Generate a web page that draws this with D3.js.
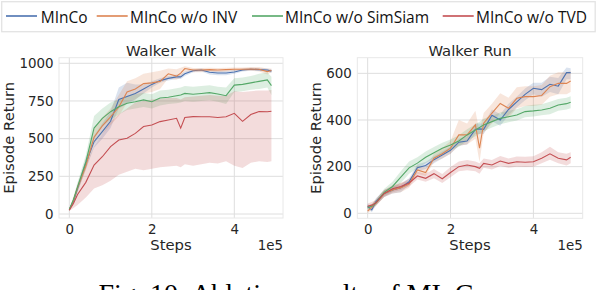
<!DOCTYPE html>
<html><head><meta charset="utf-8">
<script src="https://cdn.jsdelivr.net/npm/d3@7/dist/d3.min.js"></script>
<style>body{margin:0;background:#fff;overflow:hidden}svg{display:block}</style>
</head><body>
<script>
// ---------- data ----------
const series = ["MInCo", "MInCo w/o INV", "MInCo w/o SimSiam", "MInCo w/o TVD"];
const colors = ["#4c72b0", "#dd8452", "#55a868", "#c44e52"];
const steps = [0, 10000, 20000, 40000, 60000, 80000, 100000, 120000, 140000, 160000, 180000, 200000, 220000, 240000, 260000, 270000, 280000, 300000, 320000, 340000, 360000, 380000, 400000, 420000, 440000, 460000, 480000, 490000];
const xTicks = [0, 200000, 400000];
const walkYTicks = [0, 250, 500, 750, 1000];
const runYTicks = [0, 200, 400, 600];

// Walker Walk
const walkMInCo   = [30, 85, 170, 336, 480, 546, 615, 760, 780, 800, 830, 860, 885, 900, 910, 910, 930, 950, 955, 940, 935, 935, 942, 955, 960, 958, 955, 948];
const walkMInCoLo = [20, 70, 150, 300, 440, 500, 570, 700, 730, 760, 800, 840, 870, 885, 895, 895, 915, 940, 945, 925, 920, 920, 930, 945, 950, 948, 945, 935];
const walkMInCoHi = [40, 100, 190, 370, 520, 600, 680, 840, 870, 860, 860, 880, 900, 915, 925, 925, 945, 960, 965, 955, 950, 950, 955, 965, 970, 968, 965, 960];
const walkINV   = [28, 90, 175, 320, 510, 585, 645, 710, 810, 830, 865, 870, 880, 930, 915, 935, 965, 955, 955, 958, 955, 958, 960, 960, 962, 960, 945, 952];
const walkINVLo = [20, 70, 150, 290, 460, 530, 590, 650, 740, 760, 800, 810, 830, 900, 890, 905, 945, 940, 940, 945, 940, 945, 948, 948, 950, 945, 925, 940];
const walkINVHi = [38, 110, 200, 350, 560, 640, 700, 790, 880, 900, 930, 940, 950, 965, 960, 970, 980, 968, 968, 970, 968, 970, 972, 972, 975, 975, 965, 965];
const walkSim   = [30, 95, 180, 345, 570, 635, 679, 712, 735, 745, 757, 745, 770, 775, 785, 790, 800, 795, 800, 805, 796, 785, 855, 860, 870, 880, 890, 852];
const walkSimLo = [20, 75, 150, 300, 500, 580, 625, 660, 690, 700, 710, 700, 720, 730, 735, 740, 750, 745, 750, 755, 745, 730, 810, 815, 825, 830, 840, 790];
const walkSimHi = [40, 115, 210, 390, 650, 700, 740, 760, 785, 795, 805, 795, 820, 825, 835, 840, 850, 845, 850, 855, 845, 840, 900, 905, 915, 930, 940, 910];
const walkTVD   = [25, 70, 130, 210, 325, 380, 447, 491, 502, 535, 580, 590, 613, 624, 635, 570, 640, 646, 645, 645, 640, 645, 668, 615, 660, 680, 678, 682];
const walkTVDLo = [20, 40, 60, 110, 170, 190, 220, 260, 280, 300, 290, 300, 310, 315, 320, 310, 330, 320, 330, 340, 335, 350, 320, 305, 340, 350, 345, 350];
const walkTVDHi = [30, 100, 190, 320, 450, 530, 610, 660, 700, 740, 750, 760, 765, 770, 770, 760, 775, 780, 785, 790, 785, 785, 815, 810, 815, 820, 820, 822];

// Walker Run
const runMInCo   = [30, 15, 50, 85, 100, 110, 135, 195, 205, 230, 250, 270, 305, 310, 360, 362, 360, 420, 400, 445, 478, 510, 536, 530, 553, 545, 603, 603];
const runMInCoLo = [20, 5, 35, 70, 85, 90, 120, 180, 190, 215, 235, 255, 290, 295, 340, 340, 340, 395, 375, 420, 455, 485, 510, 500, 520, 510, 575, 575];
const runMInCoHi = [40, 30, 65, 100, 115, 125, 150, 210, 220, 245, 265, 285, 320, 330, 385, 385, 385, 445, 425, 470, 500, 535, 560, 560, 585, 580, 625, 622];
const runINV   = [10, 25, 45, 85, 100, 110, 125, 186, 175, 236, 255, 279, 336, 336, 379, 279, 386, 429, 471, 450, 493, 500, 500, 505, 543, 557, 557, 567];
const runINVLo = [0, 15, 30, 70, 85, 90, 110, 170, 160, 220, 235, 255, 290, 295, 320, 220, 345, 385, 430, 410, 450, 460, 460, 465, 500, 510, 510, 520];
const runINVHi = [25, 40, 60, 100, 115, 130, 140, 205, 195, 255, 280, 310, 400, 385, 440, 350, 430, 470, 515, 495, 540, 545, 545, 550, 590, 605, 605, 610];
const runSim   = [25, 30, 45, 90, 115, 155, 195, 215, 240, 260, 279, 293, 310, 336, 357, 368, 379, 393, 407, 414, 421, 436, 439, 443, 450, 464, 470, 476];
const runSimLo = [15, 20, 35, 75, 95, 130, 170, 192, 215, 236, 255, 270, 285, 310, 330, 340, 352, 368, 382, 390, 398, 412, 415, 420, 425, 440, 445, 450];
const runSimHi = [35, 40, 58, 105, 135, 180, 222, 240, 265, 284, 302, 316, 335, 360, 382, 392, 405, 418, 432, 440, 446, 460, 465, 468, 478, 490, 495, 502];
const runTVD   = [30, 35, 45, 85, 105, 115, 130, 160, 150, 170, 148, 175, 200, 207, 200, 193, 214, 207, 224, 214, 221, 219, 221, 236, 255, 236, 229, 240];
const runTVDLo = [20, 25, 35, 70, 90, 100, 115, 145, 135, 150, 130, 155, 180, 185, 180, 170, 195, 188, 203, 195, 200, 198, 200, 215, 230, 215, 205, 215];
const runTVDHi = [42, 48, 58, 100, 120, 130, 148, 178, 170, 190, 168, 198, 222, 228, 222, 215, 235, 228, 246, 235, 243, 242, 245, 262, 285, 262, 255, 262];

// ---------- drawing ----------
const W = 598, H = 290;
const svg = d3.select("body").append("svg").attr("width", W).attr("height", H);
const textCol = "#262626", gridCol = "#dedede", frameCol = "#e8e8e8";
const tickFont = "13.4px", labelFont = "14.8px";
const fam = "'DejaVu Sans', sans-serif";

function panel(cfg) {
  const x = d3.scaleLinear().domain(cfg.xDom).range([cfg.x0, cfg.x1]);
  const y = d3.scaleLinear().domain(cfg.yDom).range([cfg.y1, cfg.y0]);
  const g = svg.append("g");
  const id = "clip" + cfg.name.replace(/\s/g, "");
  svg.append("clipPath").attr("id", id).append("rect")
    .attr("x", cfg.x0).attr("y", cfg.y0).attr("width", cfg.x1 - cfg.x0).attr("height", cfg.y1 - cfg.y0);

  // grid
  g.selectAll(".gx").data(xTicks).join("line")
    .attr("x1", d => x(d)).attr("x2", d => x(d)).attr("y1", cfg.y0).attr("y2", cfg.y1)
    .attr("stroke", gridCol).attr("stroke-width", 1);
  g.selectAll(".gy").data(cfg.yTicks).join("line")
    .attr("y1", d => y(d)).attr("y2", d => y(d)).attr("x1", cfg.x0).attr("x2", cfg.x1)
    .attr("stroke", gridCol).attr("stroke-width", 1);
  g.append("rect").attr("x", cfg.x0).attr("y", cfg.y0)
    .attr("width", cfg.x1 - cfg.x0).attr("height", cfg.y1 - cfg.y0)
    .attr("fill", "none").attr("stroke", frameCol).attr("stroke-width", 1);

  const plot = g.append("g").attr("clip-path", `url(#${id})`);
  cfg.data.forEach((s, i) => {
    const pts = steps.map((st, k) => ({x: st, m: s.mean[k], lo: s.lo[k], hi: s.hi[k]}));
    plot.append("path").datum(pts)
      .attr("d", d3.area().x(d => x(d.x)).y0(d => y(d.lo)).y1(d => y(d.hi)))
      .attr("fill", colors[i]).attr("fill-opacity", 0.2).attr("stroke", "none");
  });
  cfg.data.forEach((s, i) => {
    const pts = steps.map((st, k) => ({x: st, m: s.mean[k]}));
    plot.append("path").datum(pts)
      .attr("d", d3.line().x(d => x(d.x)).y(d => y(d.m)))
      .attr("fill", "none").attr("stroke", colors[i]).attr("stroke-width", 1.1);
  });

  // axes
  const ya = g.append("g").attr("transform", `translate(${cfg.x0},0)`)
    .call(d3.axisLeft(y).tickValues(cfg.yTicks).tickSize(0).tickPadding(5.5).tickFormat(d3.format("d")));
  ya.select(".domain").remove();
  ya.selectAll("text").attr("font-size", tickFont).attr("font-family", fam).attr("fill", textCol);
  const xa = g.append("g").attr("transform", `translate(0,${cfg.y1})`)
    .call(d3.axisBottom(x).tickValues(xTicks).tickSize(0).tickPadding(6).tickFormat(d => d3.format("d")(d / 1e5)));
  xa.select(".domain").remove();
  xa.selectAll("text").attr("font-size", tickFont).attr("font-family", fam).attr("fill", textCol)
    .attr("dy", null).attr("y", 15.5);

  // texts
  const cx = (cfg.x0 + cfg.x1) / 2;
  g.append("text").text(cfg.name).attr("x", cx).attr("y", 55.5).attr("text-anchor", "middle")
    .attr("font-size", labelFont).attr("font-family", fam).attr("fill", textCol);
  g.append("text").text("Steps").attr("x", cx).attr("y", 250).attr("text-anchor", "middle")
    .attr("font-size", labelFont).attr("font-family", fam).attr("fill", textCol);
  g.append("text").text("1e5").attr("x", cfg.x1).attr("y", 249.5).attr("text-anchor", "end")
    .attr("font-size", tickFont).attr("font-family", fam).attr("fill", textCol);
  g.append("text").text("Episode Return")
    .attr("transform", `translate(${cfg.ylx},${(cfg.y0 + cfg.y1) / 2}) rotate(-90)`)
    .attr("text-anchor", "middle")
    .attr("font-size", labelFont).attr("font-family", fam).attr("fill", textCol);
}

panel({
  name: "Walker Walk", x0: 59, x1: 283, y0: 57.7, y1: 218,
  xDom: [-25000, 518000], yDom: [-26.5, 1037], yTicks: walkYTicks, ylx: 14.3,
  data: [
    {mean: walkMInCo, lo: walkMInCoLo, hi: walkMInCoHi},
    {mean: walkINV, lo: walkINVLo, hi: walkINVHi},
    {mean: walkSim, lo: walkSimLo, hi: walkSimHi},
    {mean: walkTVD, lo: walkTVDLo, hi: walkTVDHi}
  ]
});
panel({
  name: "Walker Run", x0: 357.3, x1: 582.7, y0: 57.7, y1: 218.3,
  xDom: [-25000, 519000], yDom: [-21.4, 667], yTicks: runYTicks, ylx: 321,
  data: [
    {mean: runMInCo, lo: runMInCoLo, hi: runMInCoHi},
    {mean: runINV, lo: runINVLo, hi: runINVHi},
    {mean: runSim, lo: runSimLo, hi: runSimHi},
    {mean: runTVD, lo: runTVDLo, hi: runTVDHi}
  ]
});

// legend
const leg = svg.append("g");
leg.append("rect").attr("x", 1.7).attr("y", 1.7).attr("width", 593.5).attr("height", 30)
  .attr("fill", "#fff").attr("stroke", "#e3e3e3").attr("stroke-width", 1.3);
const legLineX = [6, 96.7, 252, 442.7];
const legTextX = [40.7, 130, 285, 476];
series.forEach((s, i) => {
  leg.append("line").attr("x1", legLineX[i]).attr("x2", legLineX[i] + 31)
    .attr("y1", 16).attr("y2", 16).attr("stroke", colors[i]).attr("stroke-width", 1.6);
  leg.append("text").text(s).attr("x", legTextX[i]).attr("y", 23)
    .attr("font-size", "15.5px").attr("font-family", "'Open Sans', 'Liberation Sans', sans-serif")
    .attr("fill", "#111");
});

// caption (cut off at the bottom as in the reference)
svg.append("text").text("Fig. 10: Ablation results of MInCo")
  .attr("x", 293).attr("y", 303).attr("text-anchor", "middle")
  .attr("font-size", "28px").attr("font-family", "'Liberation Serif', 'Times New Roman', serif")
  .attr("fill", "#000");
</script>
</body></html>
